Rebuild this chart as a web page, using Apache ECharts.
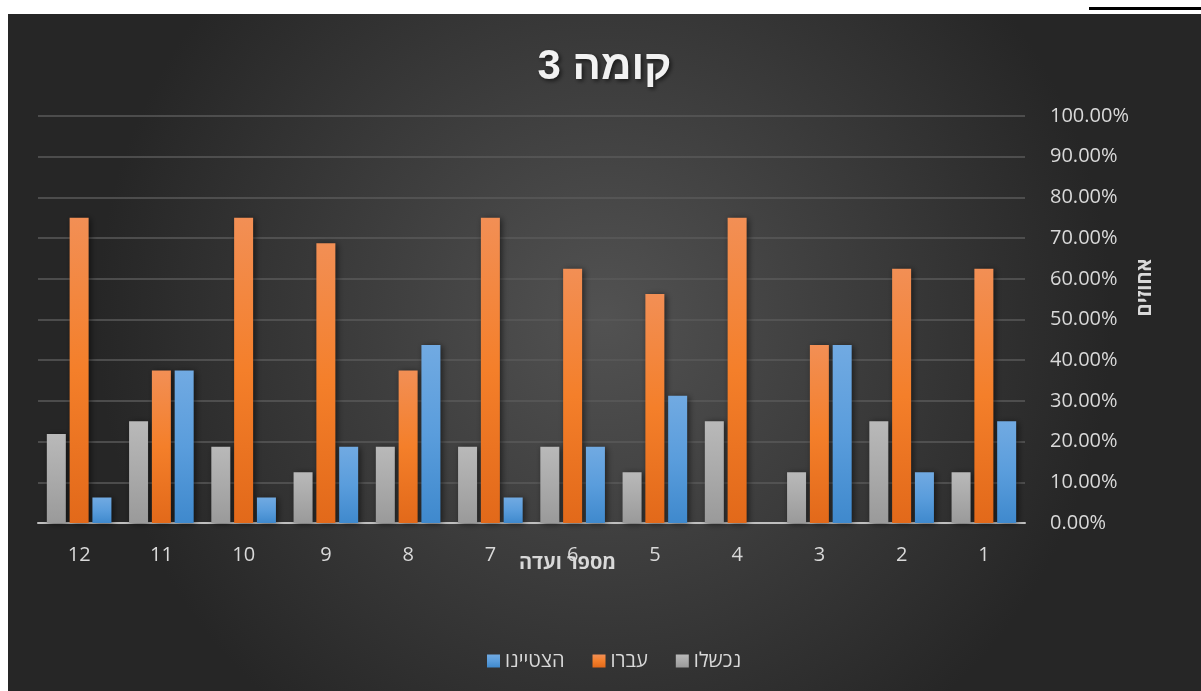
<!DOCTYPE html>
<html><head><meta charset="utf-8">
<script src="https://cdn.jsdelivr.net/npm/echarts@6/dist/echarts.min.js"></script>
<style>
html,body{margin:0;padding:0;background:#fff;width:1201px;height:691px;overflow:hidden;}
#c{position:absolute;left:8px;top:14px;width:1193px;height:677px;}
#ul{position:absolute;left:1089px;top:7px;width:112px;height:3px;background:#000;}
</style></head>
<body>
<div id="ul"></div>
<div id="c"></div>
<script>
const categories = ['1','2','3','4','5','6','7','8','9','10','11','12'];
const failed = [12.5, 25, 12.5, 25, 12.5, 18.75, 18.75, 18.75, 12.5, 18.75, 25, 21.88];
const passed = [62.5, 62.5, 43.75, 75, 56.25, 62.5, 75, 37.5, 68.75, 75, 37.5, 75];
const excelled = [25, 12.5, 43.75, 0, 31.25, 18.75, 6.25, 43.75, 18.75, 6.25, 37.5, 6.25];
const yTicks = [0,10,20,30,40,50,60,70,80,90,100];

const FONT = "'Open Sans','DejaVu Sans',sans-serif";
function grad(top, mid, bot){
  return new echarts.graphic.LinearGradient(0,0,0,1,[{offset:0,color:top},{offset:0.5,color:mid},{offset:1,color:bot}]);
}
function barSeries(name, data, g){
  return {name, type:'bar', data, barWidth:19, barGap:'20%',
    itemStyle:{color:g, shadowColor:'rgba(0,0,0,0.55)', shadowBlur:6, shadowOffsetX:2, shadowOffsetY:1}};
}
const chart = echarts.init(document.getElementById('c'));
chart.setOption({
  backgroundColor: new echarts.graphic.RadialGradient(0.5,0.45,0.75,[{offset:0,color:'#525252'},{offset:1,color:'#262626'}]),
  textStyle:{fontFamily:FONT},
  title:{text:'קומה 3', left:'center', top:27, padding:[5,0,5,16],
    textStyle:{color:'#f2f2f2', fontSize:42, fontWeight:'bold', fontFamily:"'Liberation Sans','DejaVu Sans',sans-serif",
      textShadowColor:'rgba(0,0,0,0.6)', textShadowBlur:4, textShadowOffsetX:2, textShadowOffsetY:2}},
  legend:{data:['הצטיינו','עברו','נכשלו'], bottom:15, left:474, itemWidth:13, itemHeight:13, itemGap:28,
    icon:'rect', textStyle:{color:'#d9d9d9', fontSize:20, fontFamily:FONT}},
  grid:{left:30, right:176, top:102, bottom:168},
  xAxis:{type:'category', data:categories, inverse:true,
    name:'מספר ועדה', nameLocation:'middle', nameGap:30, nameMoveOverlap:false,
    nameTextStyle:{color:'#d9d9d9', fontSize:20, fontWeight:'bold', padding:[0,0,0,72]},
    axisLine:{lineStyle:{color:'#bfbfbf', width:2}}, axisTick:{show:false},
    axisLabel:{color:'#d9d9d9', fontSize:20, margin:22}},
  yAxis:{type:'value', position:'right', min:0, max:100, interval:10,
    name:'אחוזים', nameLocation:'middle', nameGap:110, nameMoveOverlap:false,
    nameTextStyle:{color:'#d9d9d9', fontSize:20, fontWeight:'bold', padding:[0,0,0,64]},
    axisLabel:{color:'#d9d9d9', fontSize:20, margin:25, formatter:v=>v.toFixed(2)+'%'},
    splitLine:{lineStyle:{color:'#5a5a5a', width:1.5}}, axisLine:{show:false}, axisTick:{show:false}},
  series:[
    barSeries('נכשלו', failed, grad('#b9b9b9','#aaaaaa','#9a9a9a')),
    barSeries('עברו', passed, grad('#f28f55','#f47f2a','#e2691a')),
    barSeries('הצטיינו', excelled, grad('#71aae2','#5a9ddc','#3f89cd'))
  ]
});
</script>
</body></html>
